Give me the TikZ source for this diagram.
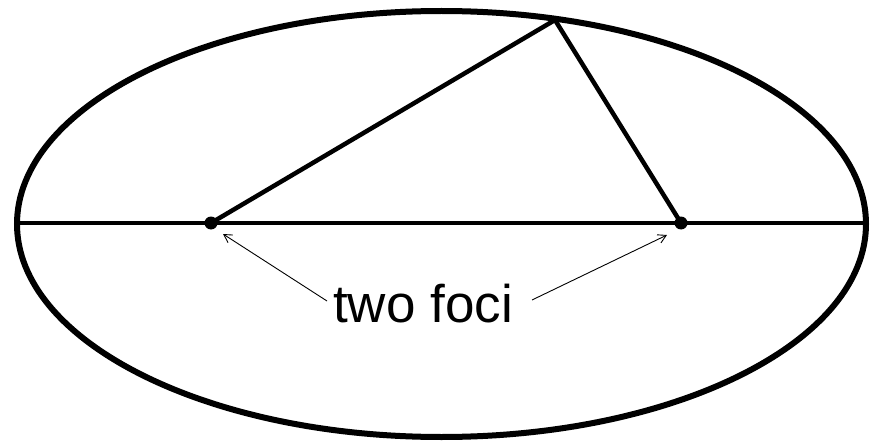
\documentclass[tikz,border=0pt]{standalone}
\usepackage{fontspec}
\setmainfont{Liberation Sans}
\usetikzlibrary{arrows.meta}
\begin{document}
\begin{tikzpicture}[x=1pt,y=-1pt,
  thickline/.style={line width=4.5pt},
  focusdot/.style={circle,fill=black,inner sep=0pt,minimum size=13pt},
  pointer/.style={line width=0.9pt,-{Straight Barb[length=8pt,width=9pt]}}]
\useasboundingbox (0,0) rectangle (871,444);
\coordinate (L) at (17,223);
\coordinate (R) at (866,223);
\coordinate (A) at (555,20);
\node[focusdot] (F1) at (211,223) {};
\node[focusdot] (F2) at (681,223) {};
\draw[line width=6pt] (441.5,224) ellipse [x radius=424.5, y radius=213];
\draw[thickline] (L) -- (R);
\draw[thickline,line join=round] (F1.center) -- (A) -- (F2.center);
\node[inner sep=0pt,anchor=base,font=\fontsize{53pt}{60pt}\selectfont] (T) at (423,322) {two foci};
\coordinate (S1) at (327,301);
\coordinate (S2) at (532,300);
\draw[pointer] (S1) -- (223,234);
\draw[pointer] (S2) -- (667,235);
\end{tikzpicture}
\end{document}
